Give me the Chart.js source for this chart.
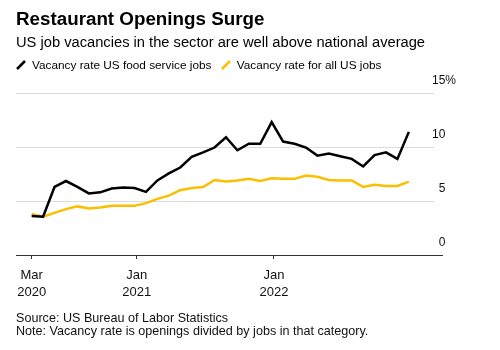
<!DOCTYPE html>
<html>
<head>
<meta charset="utf-8">
<script src="https://cdn.jsdelivr.net/npm/chart.js@4"></script>
<style>
  body { margin: 0; background: #fff; font-family: "Liberation Sans", Arial, sans-serif; }
  #wrap { position: relative; width: 500px; height: 350px; overflow: hidden; }
  #wrap canvas { position: absolute; left: 0; top: 0; }
  .txt { position: absolute; left: 16px; line-height: 1; white-space: nowrap; color: #000; }
  .title { top: 10px; font-size: 18.8px; font-weight: bold; }
  .sub { top: 35px; font-size: 14.7px; }
  .legend { top: 60px; font-size: 11.8px; }
  .legend span { display: inline-block; vertical-align: top; }
  .legend svg { vertical-align: top; margin-top: 0px; margin-right: 6px; }
  .foot { font-size: 12.6px; color: #111; }
</style>
</head>
<body>
<div id="wrap">
  <canvas id="chart" width="500" height="350"></canvas>
  <div class="txt title">Restaurant Openings Surge</div>
  <div class="txt sub">US job vacancies in the sector are well above national average</div>
  <div class="txt legend">
    <svg width="10" height="10"><line x1="1" y1="9" x2="9" y2="1" stroke="#000" stroke-width="2.5"/></svg><span>Vacancy rate US food service jobs</span>
    <svg width="10" height="10" style="margin-left:6px"><line x1="1" y1="9" x2="9" y2="1" stroke="#fbbf00" stroke-width="2.5"/></svg><span>Vacancy rate for all US jobs</span>
  </div>
  <div class="txt foot" style="top:312px">Source: US Bureau of Labor Statistics</div>
  <div class="txt foot" style="top:325px">Note: Vacancy rate is openings divided by jobs in that category.</div>
</div>
<script>
// monthly, Mar 2020 .. Dec 2022 (34 points), vacancy rate %
const foodService = [3.6, 3.55, 6.3, 6.85, 6.3, 5.7, 5.8, 6.15, 6.25, 6.2, 5.85, 6.9, 7.55, 8.1, 9.1, 9.5, 9.95, 10.9,
  9.7, 10.3, 10.3, 12.3, 10.5, 10.3, 9.95, 9.2, 9.4, 9.15, 8.9, 8.2, 9.25, 9.5, 8.9, 11.4];
const allJobs = [3.8, 3.55, 3.9, 4.25, 4.5, 4.3, 4.4, 4.55, 4.55, 4.55, 4.8, 5.2, 5.5, 6.0, 6.2, 6.3, 6.95, 6.8,
  6.9, 7.05, 6.85, 7.1, 7.05, 7.05, 7.35, 7.25, 6.95, 6.9, 6.9, 6.3, 6.5, 6.4, 6.4, 6.8];

// x ticks, in months from the first point
const tickMonths = [0, 9.2, 21.2];
const tickLabels = [['Mar', '2020'], ['Jan', '2021'], ['Jan', '2022']];
const yTicks = [0, 5, 10, 15];

const toPoints = arr => arr.map((v, i) => ({ x: i, y: v }));
const font = { family: '"Liberation Sans", Arial, sans-serif', size: 13, lineHeight: 1.28 };
const yFont = { family: '"Liberation Sans", Arial, sans-serif', size: 12 };

new Chart(document.getElementById('chart'), {
  type: 'line',
  data: {
    datasets: [
      { label: 'Vacancy rate US food service jobs', data: toPoints(foodService), borderColor: '#000', borderWidth: 2.5 },
      { label: 'Vacancy rate for all US jobs', data: toPoints(allJobs), borderColor: '#fbbf00', borderWidth: 2.5 }
    ]
  },
  options: {
    responsive: false,
    animation: false,
    layout: { padding: { top: 93, left: 16, right: 57, bottom: 45 } },
    elements: { point: { radius: 0 }, line: { tension: 0 } },
    plugins: { legend: { display: false }, tooltip: { enabled: false } },
    scales: {
      x: {
        type: 'linear',
        min: -1.37,
        max: 35.2,
        afterBuildTicks: s => { s.ticks = tickMonths.map(v => ({ value: v })); },
        afterFit: s => { s.height = 50; },
        border: { display: false },
        grid: { drawOnChartArea: false, drawTicks: true, tickLength: 4, color: '#333' },
        ticks: {
          autoSkip: false,
          maxRotation: 0,
          padding: 8,
          color: '#111',
          font: font,
          callback: (v, i) => tickLabels[i]
        }
      },
      y: {
        position: 'right',
        min: 0,
        max: 15,
        afterBuildTicks: s => { s.ticks = yTicks.map(v => ({ value: v })); },
        afterFit: s => { s.width = 9; },
        border: { display: false },
        grid: {
          color: c => c.tick && c.tick.value === 0 ? '#333' : '#dcdcdc',
          tickColor: c => c.tick && c.tick.value === 0 ? '#333' : 'rgba(0,0,0,0)',
          tickLength: 9,
          drawTicks: true
        },
        ticks: {
          mirror: true,
          crossAlign: 'far',
          padding: 22,
          labelOffset: -12,
          color: '#111',
          font: yFont,
          callback: v => v === 15 ? '15%' : (v < 10 ? '\u2007' + v : '' + v)
        }
      }
    }
  }
});
</script>
</body>
</html>
